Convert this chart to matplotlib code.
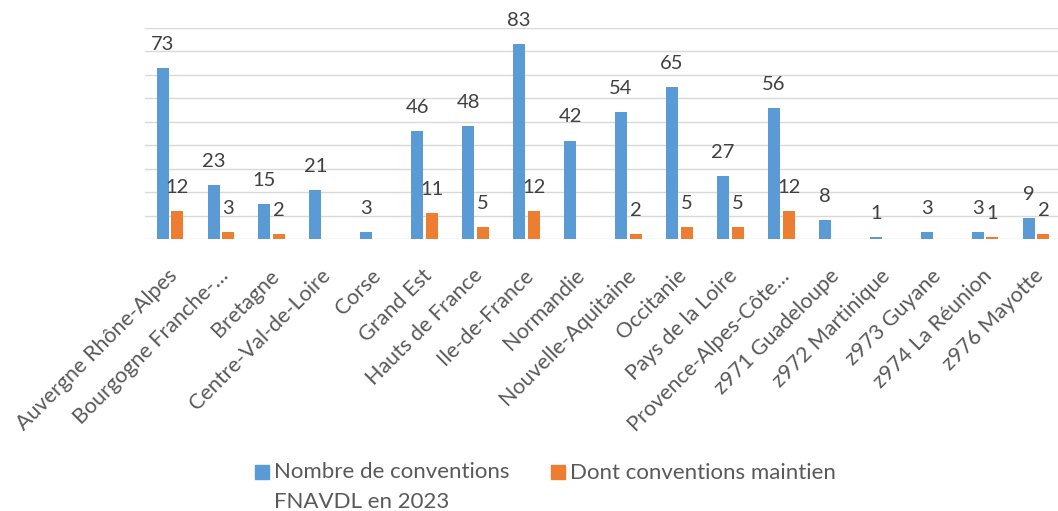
import matplotlib
matplotlib.use("Agg")
import matplotlib.pyplot as plt
import matplotlib.transforms as mtransforms
from matplotlib.patches import Rectangle
import numpy as np

plt.rcParams['font.family'] = ['Lato', 'DejaVu Sans']

# Régions et nombre de conventions
regions = ["Auvergne Rhône-Alpes", "Bourgogne Franche-…", "Bretagne",
           "Centre-Val-de-Loire", "Corse", "Grand Est", "Hauts de France",
           "Ile-de-France", "Normandie", "Nouvelle-Aquitaine", "Occitanie",
           "Pays de la Loire", "Provence-Alpes-Côte…", "z971 Guadeloupe",
           "z972 Martinique", "z973 Guyane", "z974 La Réunion", "z976 Mayotte"]
conventions = [73, 23, 15, 21, 3, 46, 48, 83, 42, 54, 65, 27, 56, 8, 1, 3, 3, 9]
maintien = [12, 3, 2, 0, 0, 11, 5, 12, 0, 2, 5, 5, 12, 0, 0, 0, 1, 2]

serie1 = "Nombre de conventions\nFNAVDL en 2023"
serie2 = "Dont conventions maintien"

bleu = "#5B9BD5"
orange = "#ED7D31"
gris_txt = "#595959"

W, H = 1058, 511
fig = plt.figure(figsize=(W / 100, H / 100), dpi=100)
ax = fig.add_axes([144.5 / W, 272 / H, 917 / W, 211 / H])

x = np.arange(len(regions))
larg = 0.235
dec = 0.145
b1 = ax.bar(x - dec, conventions, larg, color=bleu, zorder=3)
b2 = ax.bar(x + dec, maintien, larg, color=orange, zorder=3)

# étiquettes de valeurs au-dessus des barres
for xs, vals in ((x - dec, conventions), (x + dec, maintien)):
    for xi, v in zip(xs, vals):
        if v == 0:
            continue
        ax.annotate(str(v), (xi, v), xytext=(0, 13), textcoords="offset points",
                    ha="center", va="baseline", fontsize=14.5, color="#404040")

ax.set_xlim(-0.5, len(regions) - 0.5)
ax.set_ylim(0, 90)
ax.set_yticks(np.arange(0, 91, 10))
ax.yaxis.grid(True, color="#D9D9D9", lw=1.0, zorder=0)
ax.tick_params(axis="y", length=0, labelleft=False)
for s in ax.spines.values():
    s.set_visible(False)

ax.set_xticks(x)
ax.set_xticklabels(regions, rotation=45, ha="right", rotation_mode="anchor",
                   fontsize=15.5, color=gris_txt)
ax.tick_params(axis="x", length=0, pad=19)
decal = mtransforms.ScaledTranslation(-3 / 100, 0, fig.dpi_scale_trans)
for lab in ax.get_xticklabels():
    lab.set_transform(lab.get_transform() + decal)

# légende (la ligne de base de la dernière ligne sert d'ancre)
fig.patches.append(Rectangle((255 / W, 1 - 479 / H), 14 / W, 14 / H,
                             transform=fig.transFigure, color=bleu))
fig.text(274 / W, 1 - 508 / H, serie1, fontsize=16, color=gris_txt,
         va="baseline", ha="left", linespacing=1.65)
fig.patches.append(Rectangle((551 / W, 1 - 479 / H), 14 / W, 14 / H,
                             transform=fig.transFigure, color=orange))
fig.text(570 / W, 1 - 479 / H, serie2, fontsize=16, color=gris_txt,
         va="baseline", ha="left")

fig.savefig("out.png", dpi=100)
